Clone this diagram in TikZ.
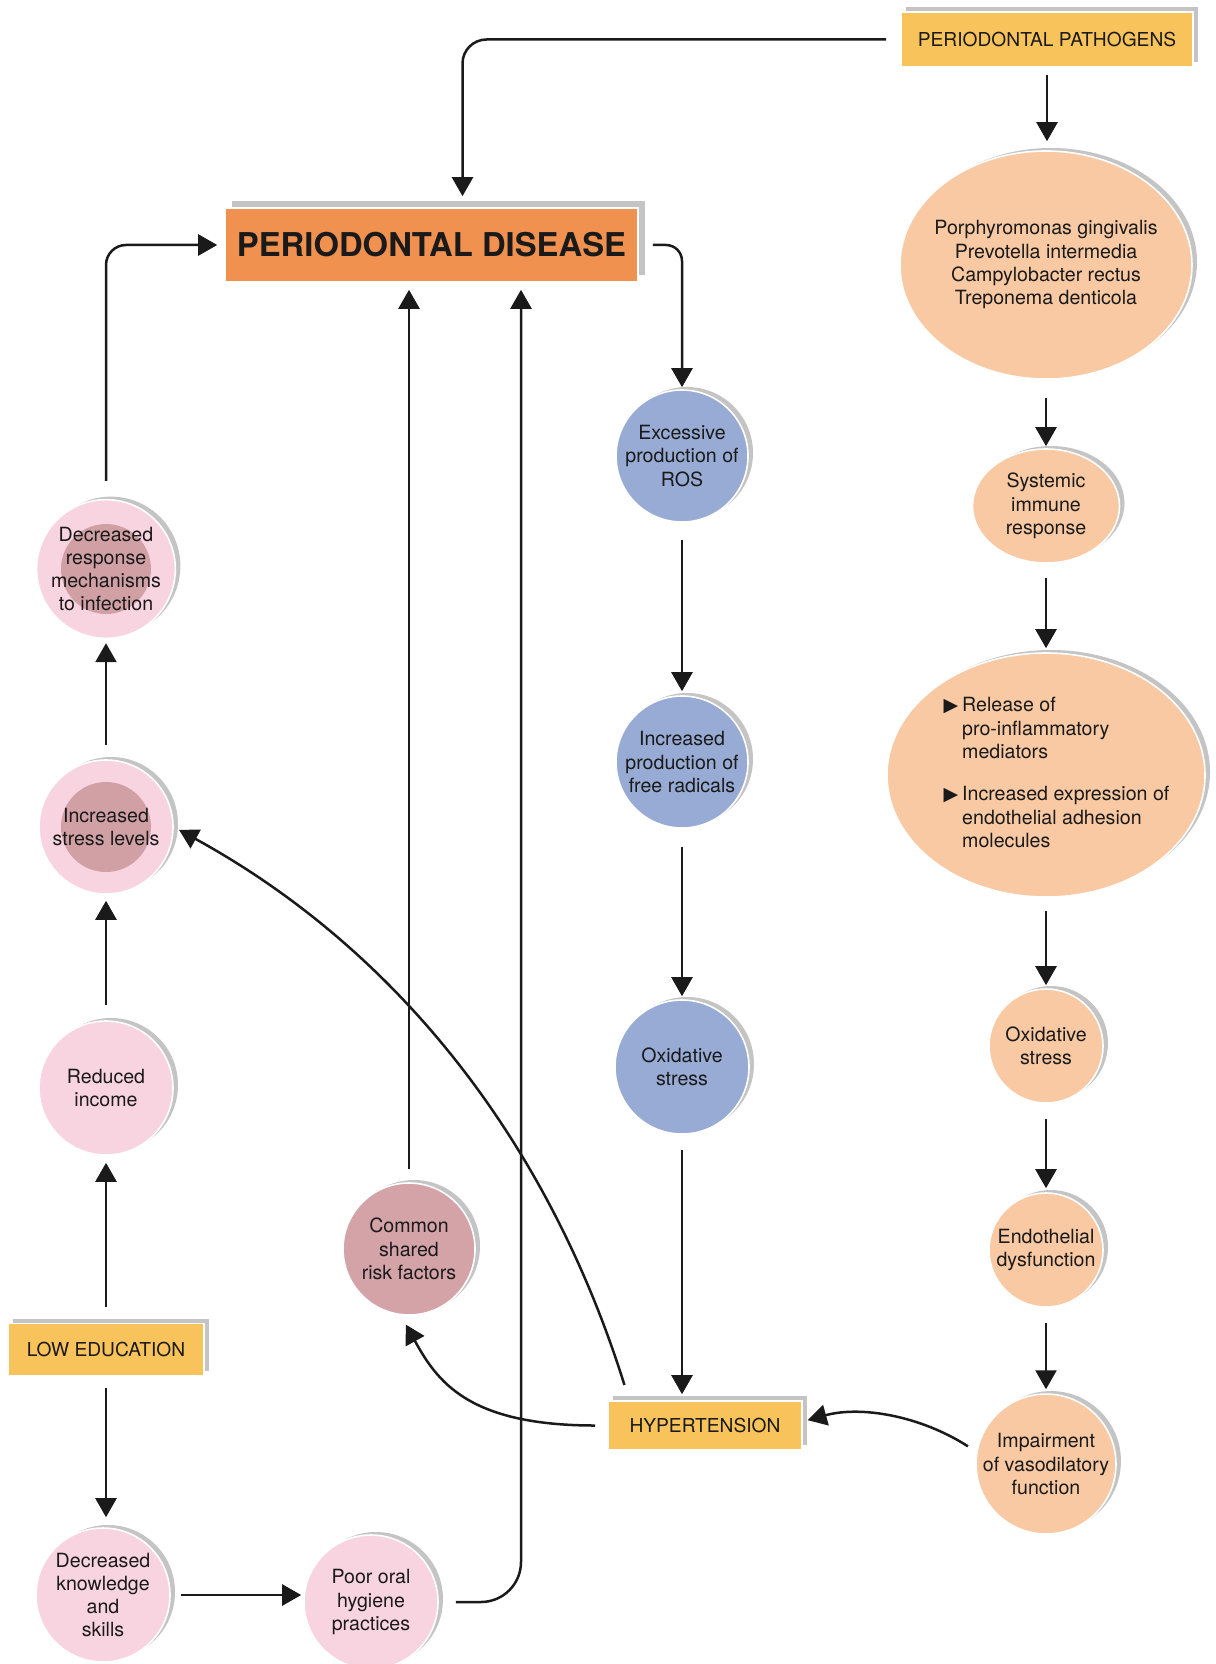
\documentclass[tikz,border=0pt]{standalone}
\usepackage{fontspec}
\setmainfont{TeX Gyre Heros}
\newfontfamily\symfont{DejaVu Sans}
\usetikzlibrary{shapes.geometric,shadows,arrows.meta,calc}
\definecolor{orangebox}{HTML}{F1914F}
\definecolor{yellowbox}{HTML}{F9C35C}
\definecolor{pinkc}{HTML}{F8D4E1}
\definecolor{innerrose}{HTML}{D0A0A5}
\definecolor{rosec}{HTML}{D3A3A8}
\definecolor{bluec}{HTML}{97ABD4}
\definecolor{peachc}{HTML}{F8C9A3}
\definecolor{shadowgray}{HTML}{C4C4C4}
\definecolor{inkc}{HTML}{1A1A1A}
\newcommand\tribullet{{\symfont\fontsize{9.5}{9.5}\selectfont ▶}}
\tikzset{
  txt/.style={font=\fontsize{9.8}{11.65}\selectfont, align=center, inner sep=0pt, text=inkc},
  shad/.style={drop shadow={shadow xshift=2.5pt,shadow yshift=1.5pt,opacity=1,fill=shadowgray}},
  bub/.style={circle, txt, shad, fill=#1, draw=white, line width=0.8pt},
  ell/.style={ellipse, txt, shad, fill=#1, draw=white, line width=0.8pt},
  ybox/.style={rectangle, fill=yellowbox, draw=white, line width=0.8pt, inner sep=0pt, text=inkc,
    font=\fontsize{9.6}{11}\selectfont,
    drop shadow={shadow xshift=2.5pt,shadow yshift=2.5pt,opacity=1,fill=shadowgray}},
  dbox/.style={rectangle, fill=orangebox, draw=white, line width=0.8pt, inner sep=0pt, text=inkc,
    font=\fontsize{16.4}{18}\selectfont\bfseries,
    drop shadow={shadow xshift=3.5pt,shadow yshift=3.5pt,opacity=1,fill=shadowgray}},
  innerc/.style={path picture={\fill[innerrose] (path picture bounding box.center) circle[radius=22.5pt];}},
  arr/.style={-{Triangle[length=9.5pt,width=10.5pt]}, line width=1.25pt, draw=inkc},
}
\begin{document}
\begin{tikzpicture}[x=0.5pt,y=-0.5pt]
\useasboundingbox[fill=white] (0,0) rectangle (1215,1664);

% boxes
\node[dbox, minimum width=206.5pt, minimum height=37pt] (disease) at (431.5,245) {PERIODONTAL DISEASE};
\node[ybox, minimum width=146pt, minimum height=27.5pt] (pathog) at (1047,39.5) {PERIODONTAL PATHOGENS};
\node[ybox, minimum width=98pt, minimum height=26pt] (lowedu) at (106,1349.5) {LOW EDUCATION};
\node[ybox, minimum width=97pt, minimum height=24.5pt] (hyper) at (705,1425.5) {HYPERTENSION};

% left column
\node[bub=pinkc, innerc, minimum size=67pt] (dec) at (106,569) {Decreased\\response\\mechanisms\\to infection};
\node[bub=pinkc, innerc, minimum size=67pt] (stress) at (106,827) {Increased\\stress levels};
\node[bub=pinkc, minimum size=67pt] (income) at (106,1088) {Reduced\\income};
\node[bub=pinkc, minimum size=67pt] (know) at (103,1595) {Decreased\\knowledge\\and\\skills};
\node[bub=pinkc, minimum size=67pt] (poor) at (371,1602) {Poor oral\\hygiene\\practices};
\node[bub=rosec, minimum size=66pt] (common) at (409,1249) {Common\\shared\\risk factors};

% blue column
\node[bub=bluec, minimum size=66pt] (ros) at (682,456) {Excessive\\production of\\ROS};
\node[bub=bluec, minimum size=66pt] (rad) at (682,762) {Increased\\production of\\free radicals};
\node[bub=bluec, minimum size=67pt] (oxb) at (682,1067) {Oxidative\\stress};

% right column
\node[ell=peachc, minimum width=146pt, minimum height=114pt] (porph) at (1046,265)
  {\makebox[0pt]{\begin{tabular}{@{}c@{}}Porphyromonas gingivalis\\Prevotella intermedia\\Campylobacter rectus\\Treponema denticola\end{tabular}}};
\node[ell=peachc, minimum width=73.5pt, minimum height=57pt] (sys) at (1046,506) {Systemic\\immune\\response};
\node[ell=peachc, minimum width=159pt, minimum height=122pt] (rel) at (1046,775)
  {\makebox[0pt]{\hspace*{10.5pt}\begin{tabular}{@{}l@{\hspace{2pt}}l@{}}
   \tribullet & Release of\\ & pro-inflammatory\\ & mediators\\[9.5pt]
   \tribullet & Increased expression of\\ & endothelial adhesion\\ & molecules
   \end{tabular}}};
\node[bub=peachc, minimum size=57pt] (oxo) at (1046,1046) {Oxidative\\stress};
\node[bub=peachc, minimum size=57pt] (endo) at (1046,1250) {Endothelial\\dysfunction};
\node[bub=peachc, minimum size=66pt] (imp) at (1046,1464) {Impairment\\of vasodilatory\\function};

% connectors: right column
\draw[arr, rounded corners=12pt, shorten <=7pt, shorten >=5.5pt] (pathog.west) -| ([xshift=15.5pt]disease.north);
\draw[arr, shorten <=3.5pt, shorten >=4.5pt] (pathog.south) -- (pathog.south |- porph.north);
\draw[arr, shorten <=9pt, shorten >=1pt] (porph.south) -- (sys.north);
\draw[arr, shorten <=7pt, shorten >=2pt] (sys.south) -- (rel.north);
\draw[arr, shorten <=6.5pt, shorten >=1.5pt] (rel.south) -- (oxo.north);
\draw[arr, shorten <=7.5pt, shorten >=2pt] (oxo.south) -- (endo.north);
\draw[arr, shorten <=7.5pt, shorten >=2pt] (endo.south) -- (imp.north);
\draw[arr, shorten <=5pt, shorten >=2.5pt] (imp.170) .. controls +(-56,-36) and +(58,-16) .. ([yshift=2pt]hyper.east);

% blue column
\draw[arr, rounded corners=8pt, shorten <=7pt, shorten >=1pt] (disease.east) -| (ros.north);
\draw[arr, shorten <=8.5pt, shorten >=2pt] (ros.south) -- (rad.north);
\draw[arr, shorten <=9pt, shorten >=1.5pt] (rad.south) -- (oxb.north);
\draw[arr, shorten <=7.5pt, shorten >=3pt] (oxb.south) -- (oxb.south |- hyper.north);

% hypertension outputs
\draw[arr, shorten <=6pt, shorten >=5pt] (hyper.west) .. controls +(-140,0) and +(36,65) .. ([xshift=-4pt]common.south);
\draw[arr, shorten <=8pt, shorten >=3pt] ([xshift=11pt]hyper.north west) .. controls +(-80,-256) and +(226,124) .. (stress.east);

% left column
\draw[arr, shorten <=6pt, shorten >=5pt] (lowedu.south) -- (lowedu.south |- know.north);
\draw[arr, shorten <=8pt, shorten >=3.5pt] (lowedu.north) -- (income.south);
\draw[arr, shorten <=7.5pt, shorten >=3pt] (income.north) -- (stress.south);
\draw[arr, shorten <=7pt, shorten >=2pt] (stress.north) -- (dec.south);
\draw[arr, rounded corners=10pt, shorten <=9pt, shorten >=3.5pt] (dec.north) |- (disease.west);
\draw[arr, shorten <=5pt, shorten >=1pt] (know.east) -- (know.east -| poor.west);
\draw[arr, rounded corners=20pt, shorten <=8.5pt, shorten >=3.5pt] (poor.east) -| ([xshift=44.75pt]disease.south);
\draw[arr, shorten <=6.5pt, shorten >=3.5pt] (common.north) -- (common.north |- disease.south);
\end{tikzpicture}
\end{document}
